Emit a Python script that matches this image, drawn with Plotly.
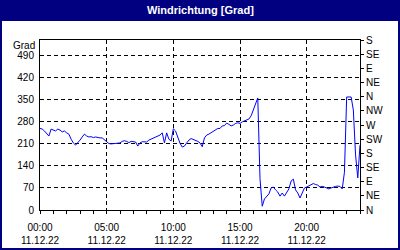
import pandas as pd
import plotly.graph_objects as go

# Wind direction (degrees), 10-minute intervals, 11.12.22 00:00 .. 12.12.22 00:00
direction = [
    259, 257, 251, 241, 235, 257, 254, 251, 257, 254,
    248, 251, 245, 241, 225, 213, 206, 213, 222, 232,
    241, 235, 232, 233, 230, 232, 230, 229, 229, 222,
    216, 211, 210, 211, 210, 211, 213, 218, 220, 218,
    214, 218, 216, 216, 203, 213, 217, 216, 216, 222,
    225, 230, 233, 235, 238, 245, 213, 245, 225, 219,
    258, 251, 232, 212, 200, 203, 213, 222, 227, 224,
    222, 218, 213, 201, 229, 238, 241, 245, 249, 254,
    259, 259, 267, 268, 276, 272, 267, 270, 275, 277,
    275, 280, 283, 284, 289, 299, 318, 333, 356, 100,
    12, 35, 44, 51, 70, 73, 64, 57, 44, 54,
    44, 54, 67, 92, 98, 64, 54, 38, 57, 70,
    73, 76, 79, 84, 81, 79, 73, 75, 73, 71,
    67, 70, 73, 75, 76, 75, 67, 120, 359, 359,
    359, 318, 175, 102, 206,
]
times = pd.date_range("2022-12-11 00:00", periods=len(direction), freq="10min")

left_ticks = [0, 70, 140, 210, 280, 350, 420, 490]
major_times = ["2022-12-11 00:00", "2022-12-11 05:00", "2022-12-11 10:00",
               "2022-12-11 15:00", "2022-12-11 20:00"]
major_labels = ["00:00<br>11.12.22", "05:00<br>11.12.22", "10:00<br>11.12.22",
                "15:00<br>11.12.22", "20:00<br>11.12.22"]
compass_vals = [0, 45, 90, 135, 180, 225, 270, 315, 360, 405, 450, 495, 540]
compass_text = ["N", "NE", "E", "SE", "S", "SW", "W", "NW", "N", "NE", "E", "SE", "S"]

NAVY = "#000080"
FONT = "Liberation Sans"

fig = go.Figure()
fig.add_trace(go.Scatter(x=times, y=direction, mode="lines",
                         line=dict(color="#0000FF", width=1), showlegend=False,
                         hoverinfo="skip"))
fig.add_trace(go.Scatter(x=times[:1], y=direction[:1], yaxis="y2", mode="markers",
                         marker=dict(opacity=0), showlegend=False, hoverinfo="skip"))

fig.update_layout(
    width=400, height=250,
    margin=dict(l=40, r=40, t=40, b=40),
    paper_bgcolor="white", plot_bgcolor="white",
    font=dict(family=FONT, size=10, color="black"),
    xaxis=dict(
        type="date", automargin=False,
        range=["2022-12-11 00:00", "2022-12-12 00:00"],
        tickmode="array", tickvals=major_times, ticktext=major_labels,
        ticks="outside", ticklen=3, tickcolor="black", ticklabelstandoff=5,
        showline=True, linecolor="black", linewidth=1, mirror=True,
        showgrid=True, gridcolor="black", gridwidth=1, griddash="4px,3px",
        minor=dict(tickmode="linear", tick0="2022-12-11 00:00", dtick=3600000,
                   ticks="outside", ticklen=3, tickcolor="black", showgrid=False),
        zeroline=False, fixedrange=True,
    ),
    yaxis=dict(
        range=[0, 540], tickmode="array", tickvals=left_ticks, automargin=False,
        ticks="", showline=True, linecolor="black", linewidth=1,
        showgrid=True, gridcolor="black", gridwidth=1, griddash="4px,3px",
        zeroline=False, ticklabelstandoff=3,
    ),
    yaxis2=dict(
        range=[0, 540], overlaying="y", side="right", automargin=False,
        tickmode="array", tickvals=compass_vals, ticktext=compass_text,
        ticks="outside", ticklen=3, tickcolor="black",
        showline=True, linecolor="black", linewidth=1,
        showgrid=False, zeroline=False,
    ),
    shapes=[
        dict(type="rect", xref="paper", yref="paper",
             x0=-0.2, x1=1.2, y0=1 + 19 / 170, y1=1.4,
             fillcolor=NAVY, line=dict(width=0), layer="above"),
        dict(type="rect", xref="paper", yref="paper",
             x0=-40 / 320, x1=1 + 40 / 320, y0=-40 / 170, y1=1 + 40 / 170,
             fillcolor="rgba(0,0,0,0)", line=dict(color=NAVY, width=4), layer="above"),
    ],
    annotations=[
        dict(text="<b>Windrichtung [Grad]</b>", xref="paper", yref="paper",
             x=0.5, y=1 + 30 / 170, xanchor="center", yanchor="middle",
             showarrow=False, font=dict(family=FONT, size=11, color="white")),
        dict(text="Grad", xref="paper", yref="paper",
             x=0, y=(210 - 45) / 170, xanchor="right", yanchor="middle", xshift=-3,
             showarrow=False, font=dict(family=FONT, size=10, color="black")),
    ],
)

fig.write_html("out.html")
